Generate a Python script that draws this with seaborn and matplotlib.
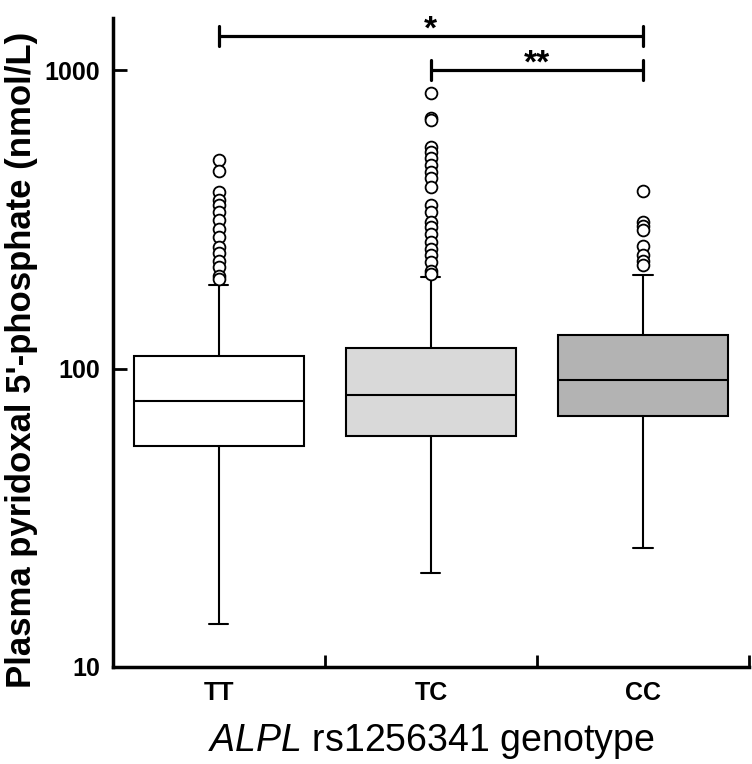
import pandas as pd
import seaborn as sns
import matplotlib.pyplot as plt

sns.set_style("ticks")
plt.rcParams['font.family'] = ['Liberation Sans', 'DejaVu Sans']
plt.rcParams['mathtext.fontset'] = 'custom'
plt.rcParams['mathtext.it'] = 'Liberation Sans:italic'
plt.rcParams['mathtext.rm'] = 'Liberation Sans'
for key in ('text.color', 'axes.edgecolor', 'axes.labelcolor', 'xtick.color', 'ytick.color'):
    plt.rcParams[key] = 'black'

# %% Data

genotypes = ['TT', 'TC', 'CC']
box_colors = ['#ffffff', '#d9d9d9', '#b3b3b3']

q1 = [55.0, 59.3, 69.2]
median = [78.0, 81.5, 91.5]
q3 = [110.0, 117.0, 129.6]
whisker_low = [13.9, 20.7, 25.1]
whisker_high = [191.0, 203.0, 206.0]

fliers_tt = [499, 460, 391, 366, 353, 335, 314, 293, 276, 256, 243, 230, 219, 205, 200]
fliers_tc = [837, 690, 681, 554, 533, 506, 481, 456, 434, 406, 353, 335, 310, 298,
             283, 266, 252, 240, 227, 213, 208]
fliers_cc = [393, 310, 301, 291, 257, 241, 230, 222]

# significance brackets: (from, to, level, label)
brackets = [(0, 2, 1300, '*'), (1, 2, 1000, '**')]

fliers = pd.DataFrame({
    'Genotype': ['TT'] * len(fliers_tt) + ['TC'] * len(fliers_tc) + ['CC'] * len(fliers_cc),
    'Value': fliers_tt + fliers_tc + fliers_cc,
})

stats = [
    dict(q1=a, med=m, q3=b, whislo=lo, whishi=hi, fliers=[])
    for a, m, b, lo, hi in zip(q1, median, q3, whisker_low, whisker_high)
]

# %% Plot

fig = plt.figure(figsize=(7.52, 7.64), dpi=100)
ax = fig.add_axes([0.150, 0.127, 0.846, 0.850])
ax.set_yscale('log')

bp = ax.bxp(
    stats,
    positions=range(len(genotypes)),
    widths=0.8,
    capwidths=0.09,
    patch_artist=True,
    showfliers=False,
    boxprops=dict(linewidth=1.5, edgecolor='black'),
    medianprops=dict(color='black', linewidth=1.5),
    whiskerprops=dict(color='black', linewidth=1.5),
    capprops=dict(color='black', linewidth=1.5),
)
for patch, c in zip(bp['boxes'], box_colors):
    patch.set_facecolor(c)

sns.stripplot(
    data=fliers, x='Genotype', y='Value', order=genotypes, ax=ax,
    jitter=False, color='white', edgecolor='black', linewidth=1.3, size=8.5,
    native_scale=False, zorder=3,
)

for x0, x1, level, label in brackets:
    ax.plot([x0, x1], [level, level], color='black', lw=2.3, solid_capstyle='butt')
    for xe in (x0, x1):
        ax.plot([xe, xe], [level / 1.08, level * 1.08], color='black', lw=2.3)
    ax.text((x0 + x1) / 2, level * 0.985, label, ha='center', va='baseline',
            fontsize=24, fontweight='bold')

ax.set_xlim(-0.5, 2.5)
ax.set_ylim(10, 1500)
ax.set_yticks([10, 100, 1000])
ax.set_yticklabels(['10', '100', '1000'])
ax.yaxis.set_minor_locator(plt.NullLocator())
ax.set_xticks(range(len(genotypes)))
ax.set_xticklabels(genotypes)
ax.set_xticks([0.5, 1.5, 2.5], minor=True)
ax.tick_params(axis='x', which='major', length=0, pad=10, labelsize=18)
ax.tick_params(axis='x', which='minor', direction='in', length=9, width=2)
ax.tick_params(axis='y', which='major', direction='in', length=10, width=2, labelsize=18, pad=9)
for lab in ax.get_xticklabels() + ax.get_yticklabels():
    lab.set_fontweight('bold')

sns.despine(ax=ax)
for side in ('left', 'bottom'):
    ax.spines[side].set_linewidth(2.5)

ax.set_ylabel("Plasma pyridoxal 5'-phosphate (nmol/L)", fontsize=25, fontweight='bold')
ax.yaxis.set_label_coords(-0.118, 0.473)
ax.set_xlabel(r"$\it{ALPL}$ rs1256341 genotype", fontsize=27, labelpad=12)

fig.savefig('out.png', dpi=100)
